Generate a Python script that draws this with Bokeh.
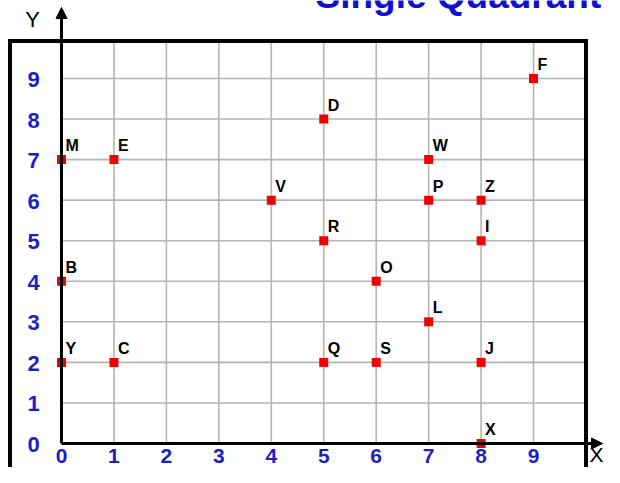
from bokeh.plotting import figure
from bokeh.models import ColumnDataSource, Arrow, NormalHead
from bokeh.core.properties import value
from bokeh.embed import file_html
from bokeh.resources import INLINE

# ---------------- data ----------------
point_names = ["F", "D", "M", "E", "W", "V", "P", "Z", "R", "I",
               "B", "O", "L", "Y", "C", "Q", "S", "J", "X"]
point_x = [9, 5, 0, 1, 7, 4, 7, 8, 5, 8, 0, 6, 7, 0, 1, 5, 6, 8, 8]
point_y = [9, 8, 7, 7, 7, 6, 6, 6, 5, 5, 4, 4, 3, 2, 2, 2, 2, 2, 0]

x_ticks = [0, 1, 2, 3, 4, 5, 6, 7, 8, 9]
y_ticks = [0, 1, 2, 3, 4, 5, 6, 7, 8, 9]
x_tick_labels = ["0", "1", "2", "3", "4", "5", "6", "7", "8", "9"]
y_tick_labels = ["0", "1", "2", "3", "4", "5", "6", "7", "8", "9"]
grid_max = 10
title_text = "Single Quadrant"
x_axis_label = "X"
y_axis_label = "Y"

# ---------------- layout (canvas pixels -> data) ----------------
W, H = 604, 467
ORIGIN_PX, ORIGIN_PY = 61.0, 443.0
UNIT_X, UNIT_Y = 52.45, 40.56


def px2x(px):
    return (px - ORIGIN_PX) / UNIT_X


def py2y(py):
    return (ORIGIN_PY - py) / UNIT_Y


FONT = "Liberation Sans"
BLUE = "#1e1ec8"
RED = "#f00000"

p = figure(width=W, height=H,
           x_range=(px2x(0), px2x(W)),
           y_range=(py2y(H), py2y(0)),
           x_axis_type=None, y_axis_type=None,
           toolbar_location=None, output_backend="svg",
           min_border=0, outline_line_color=None,
           background_fill_color="white", border_fill_color="white")
p.grid.visible = False

# grid lines
gx = x_ticks[1:]
p.segment(x0=gx, y0=[0] * len(gx), x1=gx, y1=[py2y(40.5)] * len(gx),
          line_color="#b4b4b4", line_width=1.6)
gy = y_ticks[1:]
p.segment(x0=[0] * len(gy), y0=gy, x1=[grid_max] * len(gy), y1=gy,
          line_color="#b4b4b4", line_width=1.6)

# outer frame
p.line(x=[px2x(9.5), px2x(9.5), grid_max, grid_max],
       y=[py2y(495), py2y(40.5), py2y(40.5), py2y(495)],
       line_color="black", line_width=4, line_join="miter")

# axes with arrows
p.add_layout(Arrow(end=NormalHead(size=11, fill_color="black", line_color="black"),
                   x_start=0, y_start=0, x_end=0, y_end=py2y(7),
                   line_color="black", line_width=3))
p.add_layout(Arrow(end=NormalHead(size=11, fill_color="black", line_color="black"),
                   x_start=0, y_start=0, x_end=px2x(602), y_end=0,
                   line_color="black", line_width=3))

# tick labels
p.text(x=[0] * len(y_ticks), y=y_ticks, text=y_tick_labels,
       x_offset=-28, y_offset=1, text_align="center", text_baseline="middle",
       text_font=value(FONT), text_font_style="bold", text_font_size="22px",
       text_color=BLUE)
p.text(x=x_ticks, y=[0] * len(x_ticks), text=x_tick_labels,
       x_offset=0, y_offset=12, text_align="center", text_baseline="middle",
       text_font=value(FONT), text_font_style="bold", text_font_size="21px",
       text_color=BLUE)

# axis names
p.text(x=[px2x(596)], y=[py2y(454)], text=[x_axis_label],
       text_align="center", text_baseline="middle",
       text_font=value(FONT), text_font_size="21px", text_color="black")
p.text(x=[px2x(32)], y=[py2y(19)], text=[y_axis_label],
       text_align="center", text_baseline="middle",
       text_font=value(FONT), text_font_size="22px", text_color="black")

# title (cut off at the top, as in the reference)
p.text(x=[px2x(315)], y=[py2y(-5.5)], text=[title_text],
       text_align="left", text_baseline="middle",
       text_font=value(FONT), text_font_style="bold", text_font_size="37px",
       text_color="#1010d0")

# points
src = ColumnDataSource(dict(x=point_x, y=point_y, name=point_names))
p.scatter(x="x", y="y", source=src, marker="square", size=9,
          fill_color=RED, line_color=None)
p.text(x="x", y="y", text="name", source=src, x_offset=4, y_offset=-14,
       text_align="left", text_baseline="middle",
       text_font=value(FONT), text_font_style="bold", text_font_size="16px",
       text_color="black")

open("out.html", "w").write(file_html(p, INLINE))
